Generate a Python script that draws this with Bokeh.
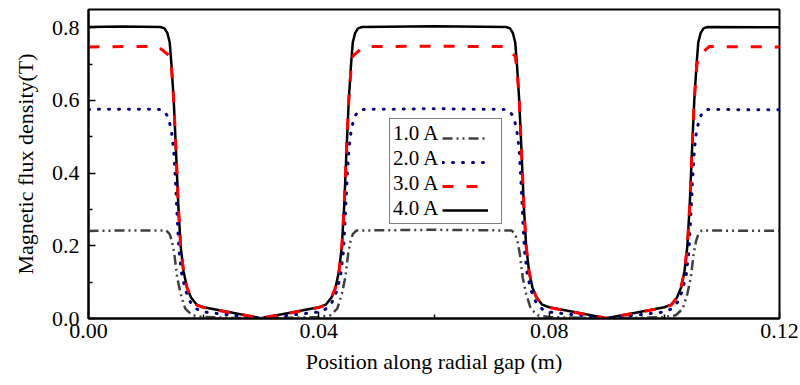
from bokeh.plotting import figure
from bokeh.models import Legend, LegendItem, Range1d, PrintfTickFormatter, FixedTicker
from bokeh.embed import file_html
from bokeh.resources import INLINE

# ---- data ----
series_labels = ["1.0 A", "2.0 A", "3.0 A", "4.0 A"]

x_1A = [0.0000, 0.0060, 0.0135, 0.0141, 0.0145, 0.0149, 0.0154, 0.0160, 0.0168, 0.0180, 0.0200,
        0.0250, 0.0300, 0.0350, 0.0400, 0.0420, 0.0432, 0.0440, 0.0446, 0.0451, 0.0455, 0.0459,
        0.0465, 0.0600, 0.0735, 0.0741, 0.0745, 0.0749, 0.0754, 0.0760, 0.0768, 0.0780, 0.0800,
        0.0850, 0.0900, 0.0950, 0.1000, 0.1020, 0.1032, 0.1040, 0.1046, 0.1051, 0.1055, 0.1059,
        0.1065, 0.1200]
y_1A = [0.241, 0.242, 0.242, 0.232, 0.212, 0.178, 0.113, 0.068, 0.027, 0.009, 0.004,
        0.002, 0.001, 0.002, 0.004, 0.009, 0.027, 0.068, 0.113, 0.178, 0.212, 0.232,
        0.242, 0.244, 0.242, 0.232, 0.212, 0.178, 0.113, 0.068, 0.027, 0.009, 0.004,
        0.002, 0.001, 0.002, 0.004, 0.009, 0.027, 0.068, 0.113, 0.178, 0.212, 0.232,
        0.242, 0.241]

x_2A = [0.0000, 0.0060, 0.0128, 0.0136, 0.0140, 0.0145, 0.0148, 0.0151, 0.0154, 0.0157, 0.0162,
        0.0169, 0.0177, 0.0188, 0.0200, 0.0250, 0.0299, 0.0350, 0.0400, 0.0412, 0.0423, 0.0431,
        0.0438, 0.0443, 0.0446, 0.0449, 0.0452, 0.0455, 0.0460, 0.0464, 0.0472, 0.0600, 0.0728,
        0.0736, 0.0740, 0.0745, 0.0748, 0.0751, 0.0754, 0.0757, 0.0762, 0.0769, 0.0777, 0.0788,
        0.0800, 0.0850, 0.0899, 0.0950, 0.1000, 0.1012, 0.1023, 0.1031, 0.1038, 0.1043, 0.1046,
        0.1049, 0.1052, 0.1055, 0.1060, 0.1064, 0.1072, 0.1200]
y_2A = [0.575, 0.576, 0.575, 0.560, 0.545, 0.505, 0.460, 0.380, 0.280, 0.190, 0.120,
        0.075, 0.045, 0.026, 0.018, 0.009, 0.001, 0.009, 0.018, 0.026, 0.045, 0.075,
        0.120, 0.190, 0.280, 0.380, 0.460, 0.505, 0.545, 0.560, 0.575, 0.577, 0.575,
        0.560, 0.545, 0.505, 0.460, 0.380, 0.280, 0.190, 0.120, 0.075, 0.045, 0.026,
        0.018, 0.009, 0.001, 0.009, 0.018, 0.026, 0.045, 0.075, 0.120, 0.190, 0.280,
        0.380, 0.460, 0.505, 0.545, 0.560, 0.575, 0.574]

x_3A = [0.0000, 0.0060, 0.0121, 0.0141, 0.0144, 0.0148, 0.0152, 0.0156, 0.0160, 0.0165, 0.0171,
        0.0178, 0.0188, 0.0200, 0.0250, 0.0299, 0.0350, 0.0400, 0.0412, 0.0422, 0.0429, 0.0435,
        0.0440, 0.0444, 0.0448, 0.0452, 0.0456, 0.0459, 0.0478, 0.0600, 0.0721, 0.0741, 0.0744,
        0.0748, 0.0752, 0.0756, 0.0760, 0.0765, 0.0771, 0.0778, 0.0788, 0.0800, 0.0850, 0.0899,
        0.0950, 0.1000, 0.1012, 0.1022, 0.1029, 0.1035, 0.1040, 0.1044, 0.1048, 0.1052, 0.1056,
        0.1059, 0.1078, 0.1200]
y_3A = [0.747, 0.748, 0.748, 0.722, 0.690, 0.600, 0.460, 0.310, 0.200, 0.130, 0.085,
        0.058, 0.037, 0.030, 0.015, 0.001, 0.015, 0.030, 0.037, 0.058, 0.085, 0.130,
        0.200, 0.310, 0.460, 0.600, 0.690, 0.722, 0.748, 0.749, 0.748, 0.722, 0.690,
        0.600, 0.460, 0.310, 0.200, 0.130, 0.085, 0.058, 0.037, 0.030, 0.015, 0.001,
        0.015, 0.030, 0.037, 0.058, 0.085, 0.130, 0.200, 0.310, 0.460, 0.600, 0.690,
        0.722, 0.748, 0.747]

x_4A = [0.0000, 0.0060, 0.0125, 0.0132, 0.0137, 0.0141, 0.0144, 0.0148, 0.0152, 0.0156, 0.0160,
        0.0165, 0.0171, 0.0178, 0.0188, 0.0200, 0.0250, 0.0299, 0.0350, 0.0400, 0.0412, 0.0422,
        0.0429, 0.0435, 0.0440, 0.0444, 0.0448, 0.0452, 0.0456, 0.0459, 0.0463, 0.0468, 0.0475,
        0.0600, 0.0725, 0.0732, 0.0737, 0.0741, 0.0744, 0.0748, 0.0752, 0.0756, 0.0760, 0.0765,
        0.0771, 0.0778, 0.0788, 0.0800, 0.0850, 0.0899, 0.0950, 0.1000, 0.1012, 0.1022, 0.1029,
        0.1035, 0.1040, 0.1044, 0.1048, 0.1052, 0.1056, 0.1059, 0.1063, 0.1068, 0.1075, 0.1200]
y_4A = [0.802, 0.803, 0.802, 0.798, 0.785, 0.760, 0.700, 0.600, 0.460, 0.310, 0.200,
        0.130, 0.085, 0.058, 0.038, 0.031, 0.016, 0.001, 0.016, 0.031, 0.038, 0.058,
        0.085, 0.130, 0.200, 0.310, 0.460, 0.600, 0.700, 0.760, 0.785, 0.798, 0.802,
        0.804, 0.802, 0.798, 0.785, 0.760, 0.700, 0.600, 0.460, 0.310, 0.200, 0.130,
        0.085, 0.058, 0.038, 0.031, 0.016, 0.001, 0.016, 0.031, 0.038, 0.058, 0.085,
        0.130, 0.200, 0.310, 0.460, 0.600, 0.700, 0.760, 0.785, 0.798, 0.802, 0.801]

x_ticks = [0.0, 0.04, 0.08, 0.12]
x_minor = [0.02, 0.06, 0.10]
y_ticks = [0.0, 0.2, 0.4, 0.6, 0.8]
y_minor = [0.1, 0.3, 0.5, 0.7]

FONT = "'Liberation Serif', 'Times New Roman', serif"

p = figure(width=800, height=385, output_backend="svg", toolbar_location=None,
           x_range=Range1d(0, 0.12), y_range=Range1d(0, 0.85),
           min_border_left=88, min_border_right=21, min_border_top=9, min_border_bottom=67)
p.grid.visible = False
p.outline_line_color = "black"
p.outline_line_width = 2
p.background_fill_color = "white"
p.border_fill_color = "white"

r4 = p.line(x_4A, y_4A, line_color="black", line_width=2.5)
r1 = p.line(x_1A, y_1A, line_color="#404040", line_width=2.5, line_dash="10 4 2 4 2 4")
r2 = p.line(x_2A, y_2A, line_color="#00007f", line_width=3, line_dash="1 9", line_cap="round")
r3 = p.line(x_3A, y_3A, line_color="#ff0000", line_width=3, line_dash="11 13")

for ax in (p.xaxis[0], p.yaxis[0]):
    ax.axis_line_color = "black"
    ax.axis_line_width = 2
    ax.major_tick_in = 7
    ax.major_tick_out = 0
    ax.minor_tick_in = 4
    ax.minor_tick_out = 0
    ax.major_tick_line_width = 1.5
    ax.minor_tick_line_width = 1.5
    ax.major_label_text_font = FONT
    ax.major_label_text_font_size = "22px"
    ax.major_label_text_color = "black"
    ax.axis_label_text_font = FONT
    ax.axis_label_text_font_size = "22px"
    ax.axis_label_text_font_style = "normal"
    ax.axis_label_text_color = "black"

p.xaxis[0].ticker = FixedTicker(ticks=x_ticks, minor_ticks=x_minor)
p.yaxis[0].ticker = FixedTicker(ticks=y_ticks, minor_ticks=y_minor)
p.xaxis[0].formatter = PrintfTickFormatter(format="%.2f")
p.yaxis[0].formatter = PrintfTickFormatter(format="%.1f")
p.xaxis[0].axis_label = "Position along radial gap (m)"
p.yaxis[0].axis_label = "Magnetic flux density(T)"
p.xaxis[0].major_label_standoff = 5
p.xaxis[0].axis_label_standoff = 8
p.yaxis[0].major_label_standoff = 9
p.yaxis[0].axis_label_standoff = 11

# legend: labels on the left (boxed), line samples on the right
renderers = [r1, r2, r3, r4]
ROW = 24
legend_labels = Legend(items=[LegendItem(label=lab, renderers=[]) for lab in series_labels],
                       location=(301, 94), orientation="vertical",
                       border_line_color="black", border_line_width=1.5,
                       label_text_font=FONT, label_text_font_size="21px",
                       label_text_color="black",
                       glyph_width=0, glyph_height=ROW, label_height=ROW, label_width=106,
                       spacing=0, padding=2, margin=0, label_standoff=1,
                       background_fill_color="white", background_fill_alpha=1.0)
legend_glyphs = Legend(items=[LegendItem(label="", renderers=[r]) for r in renderers],
                       location=(352, 94), orientation="vertical",
                       border_line_alpha=0, background_fill_alpha=0,
                       label_text_font=FONT, label_text_font_size="21px",
                       glyph_width=46, glyph_height=ROW, label_height=ROW, label_width=0,
                       spacing=0, padding=2, margin=0, label_standoff=0)
p.add_layout(legend_labels)
p.add_layout(legend_glyphs)

open("out.html", "w").write(file_html(p, INLINE))
